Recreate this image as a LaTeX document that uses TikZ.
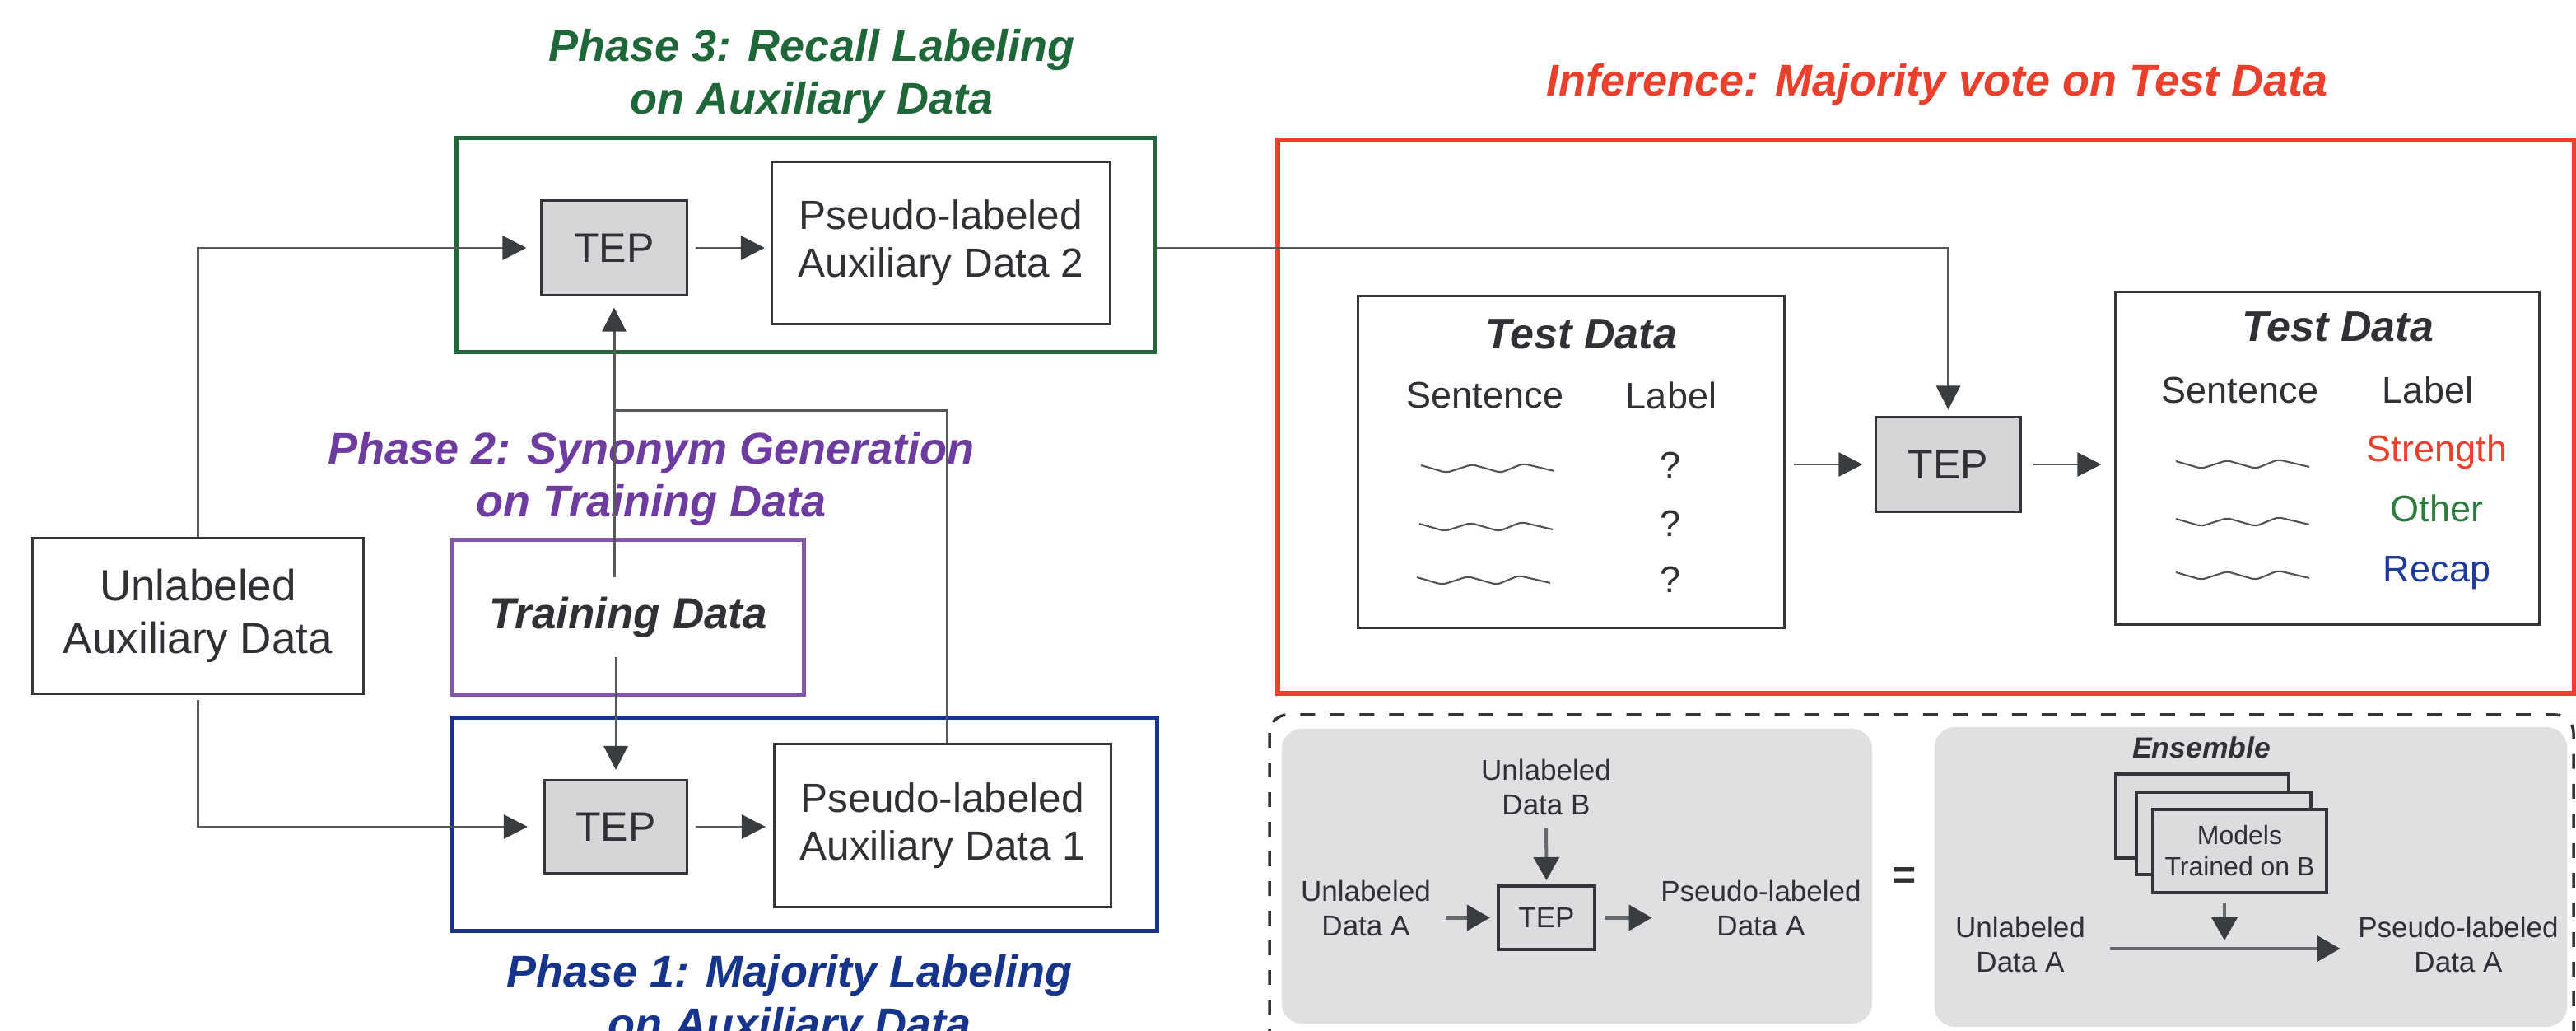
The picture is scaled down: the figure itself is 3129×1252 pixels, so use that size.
\documentclass[tikz,border=0pt]{standalone}
\usepackage{fontspec}
\setmainfont{Liberation Sans}
\usetikzlibrary{arrows.meta,calc}
\definecolor{txt}{HTML}{2F3134}
\definecolor{edge}{HTML}{333538}
\definecolor{linec}{HTML}{55595C}
\definecolor{slinec}{HTML}{66696C}
\definecolor{tipc}{HTML}{3A3D40}
\definecolor{tepfill}{HTML}{D6D6D9}
\definecolor{panel}{HTML}{E0E0E2}
\definecolor{mfill}{HTML}{DCDCDF}
\definecolor{pgreen}{HTML}{1F6638}
\definecolor{pblue}{HTML}{17348C}
\definecolor{ppurple}{HTML}{6E3CA0}
\definecolor{pboxpurple}{HTML}{8055AA}
\definecolor{pred}{HTML}{E8402C}
\definecolor{ogreen}{HTML}{2E7D3F}
\definecolor{rblue}{HTML}{1E3A9A}
\newcommand\fsz[2]{\fontsize{#1pt}{#2pt}\selectfont}
\newcommand\squig[1]{\draw[squiggle] (#1) -- ++(31,9) -- ++(31,-10) -- ++(35,10) -- ++(27,-11) -- ++(38,9);}
\begin{document}
\begin{tikzpicture}[x=0.01cm,y=-0.01cm,
  every node/.style={text=txt,inner sep=0pt},
  box/.style={draw=edge,line width=0.85pt,fill=white,align=center},
  tepbox/.style={box,fill=tepfill,font=\fsz{14.23}{17}},
  pbox/.style={box,font=\fsz{14.08}{16.5}},
  frame/.style={draw=#1,line width=1.42pt},
  title/.style={font=\fsz{15.36}{18.21}\bfseries\itshape,align=center},
  conn/.style={draw=linec,line width=0.85pt,-{Triangle[length=0.29cm,width=0.29cm,color=tipc]}},
  plain/.style={draw=linec,line width=0.85pt},
  sconn/.style={draw=slinec,line width=1.14pt,-{Triangle[length=0.28cm,width=0.31cm,color=tipc]}},
  tdtitle/.style={font=\fsz{14.8}{17}\bfseries\itshape,anchor=base},
  col/.style={font=\fsz{12.8}{15},anchor=base},
  small/.style={font=\fsz{9.96}{11.95},align=center},
  smalltep/.style={draw=edge,line width=1.14pt,fill=mfill,font=\fsz{9.96}{11.95}},
  mbox/.style={draw=edge,line width=1.14pt,fill=mfill,align=center,font=\fsz{9.1}{10.81}},
  panelbox/.style={fill=panel,rounded corners=0.25cm},
  squiggle/.style={draw=edge!85,line width=0.6pt,rounded corners=0.05cm},
  dashbox/.style={draw=edge,line width=1pt,dash pattern=on 0.18cm off 0.18cm,rounded corners=0.22cm}
]
\useasboundingbox (0,0) rectangle (3129,1252);
\clip (0,0) rectangle (3129,1252);
\fill[white] (0,0) rectangle (3129,1252);

% coloured frames
\node[frame=pgreen,minimum width=8.47cm,minimum height=2.59cm] (gbox) at (978.5,297.5) {};
\node[frame=pblue,minimum width=8.55cm,minimum height=2.58cm] (bbox) at (977.5,1001) {};
\node[frame=pred,line width=1.71pt,minimum width=15.75cm,minimum height=6.72cm] (rbox) at (2339.5,506) {};

% titles
\node[title,text=pgreen] (t3) at (986,93) {Phase 3: Recall Labeling\\on Auxiliary Data};
\node[title,text=ppurple] (t2) at (791,582) {Phase 2: Synonym Generation\\on Training Data};
\node[title,text=pblue] (t1) at (959,1217) {Phase 1: Majority Labeling\\on Auxiliary Data};
\node[title,text=pred,anchor=base] (ti) at (2353,117) {Inference: Majority vote on Test Data};

% left part
\node[box,font=\fsz{15.08}{18.21},minimum width=4.01cm,minimum height=1.88cm] (ua) at (240.5,748) {Unlabeled\\Auxiliary Data};
\node[draw=pboxpurple,line width=1.42pt,fill=white,minimum width=4.26cm,minimum height=1.87cm,font=\fsz{15.08}{18}\bfseries\itshape] (tdbox) at (763,749.5) {Training Data};
\node[tepbox,minimum width=1.76cm,minimum height=1.14cm] (tep3) at (746,301) {TEP};
\node[pbox,minimum width=4.11cm,minimum height=1.96cm] (p2) at (1143,295) {Pseudo-labeled\\Auxiliary Data 2};
\node[tepbox,minimum width=1.73cm,minimum height=1.13cm] (tep1) at (748,1004) {TEP};
\node[pbox,minimum width=4.09cm,minimum height=1.97cm] (p1) at (1145,1002.5) {Pseudo-labeled\\Auxiliary Data 1};

% inference part
\node[box,minimum width=5.17cm,minimum height=4.02cm] (tdl) at (1908.5,561) {};
\node[box,minimum width=5.14cm,minimum height=4.03cm] (tdr) at (2827,556.5) {};
\node[tepbox,minimum width=1.75cm,minimum height=1.14cm] (tepi) at (2366.5,564) {TEP};

\node[tdtitle] (tdlt) at (1921,424) {Test Data};
\node[col] (sl) at (1804,496) {Sentence};
\node[col] (ll) at (2030,497) {Label};
\node[col] (q1) at (2029,581) {?};
\node[col] (q2) at (2029,652) {?};
\node[col] (q3) at (2029,719) {?};
\squig{1726,565}
\squig{1724,636}
\squig{1721,701}

\node[tdtitle] (tdrt) at (2840,415) {Test Data};
\node[col] (sr) at (2721,490) {Sentence};
\node[col] (lr) at (2949,490) {Label};
\node[col,text=pred] (lab1) at (2960,561) {Strength};
\node[col,text=ogreen] (lab2) at (2960,634) {Other};
\node[col,text=rblue] (lab3) at (2960,707) {Recap};
\squig{2643,560}
\squig{2643,630}
\squig{2643,695}

% legend
\draw[dashbox] (1542,868) rectangle (3126,1300);
\node[panelbox,minimum width=7.17cm,minimum height=3.58cm] (lpanel) at (1915.5,1064) {};
\node[panelbox,minimum width=7.68cm,minimum height=3.64cm] (rpanel) at (2734,1065) {};

\node[small] (ub) at (1878,956) {Unlabeled\\Data B};
\node[smalltep,minimum width=1.17cm,minimum height=0.77cm] (stp) at (1878.5,1114.5) {TEP};
\node[small] (ua2) at (1659,1103) {Unlabeled\\Data A};
\node[small] (pl2) at (2139,1103) {Pseudo-labeled\\Data A};
\draw[sconn,shorten <=0.15cm,shorten >=0.05cm] (ub.south) -- (stp.north);
\draw[sconn,shorten <=0.17cm,shorten >=0.08cm] (ua2.east |- stp.west) -- (stp.west);
\draw[sconn,shorten <=0.10cm,shorten >=0.10cm] (stp.east) -- (stp.east -| pl2.west);

\node[font=\fsz{14.2}{17}\bfseries] (eq) at (2313,1067) {=};

\node[font=\fsz{10.1}{12}\bfseries\itshape,anchor=base] (ens) at (2674,920) {Ensemble};
\node[mbox,minimum width=2.10cm,minimum height=1.02cm] (mb1) at (2675,991) {};
\node[mbox,minimum width=2.12cm,minimum height=1.00cm] (mb2) at (2701,1012) {};
\node[mbox,minimum width=2.11cm,minimum height=1.01cm] (mb3) at (2720.5,1033.5) {Models\\Trained on B};
\node[small] (ua3) at (2454,1147) {Unlabeled\\Data A};
\node[small] (pl3) at (2986,1147) {Pseudo-labeled\\Data A};
\coordinate (hstart) at (2563,1152);
\coordinate (dstart) at (2702,1097);
\draw[sconn,shorten >=0.21cm] (hstart) -- (hstart -| pl3.west);
\draw[sconn,shorten >=0.10cm] (dstart) -- (dstart |- hstart);

% connectors
\draw[conn,shorten >=0.17cm] (ua.north) |- (tep3.west);
\draw[conn,shorten <=0.06cm,shorten >=0.19cm] (ua.south) |- (tep1.west);
\draw[conn,shorten <=0.09cm,shorten >=0.07cm] (tep3.east) -- (tep3.east -| p2.west);
\draw[conn,shorten <=0.09cm,shorten >=0.09cm] (tep1.east) -- (tep1.east -| p1.west);
\coordinate (tdin) at ($(tep3.south |- tdbox.north)+(0,48)$);
\draw[conn,shorten >=0.14cm] (tdin) -- (tep3.south);
\coordinate (tdout) at ($(tep1.north |- tdbox.south)+(0,-48)$);
\draw[conn,shorten >=0.11cm] (tdout) -- (tep1.north);
\coordinate (j) at ($(tep3.south)+(0,139)$);
\draw[plain] ($(p1.north)+(5,0)$) |- (j);
\draw[conn,shorten >=0.08cm] (gbox.east |- tep3.east) -| (tepi.north);
\draw[conn,shorten <=0.10cm,shorten >=0.15cm] (tdl.east |- tepi.west) -- (tepi.west);
\draw[conn,shorten <=0.14cm,shorten >=0.16cm] (tepi.east) -- (tepi.east -| tdr.west);
\end{tikzpicture}
\end{document}
